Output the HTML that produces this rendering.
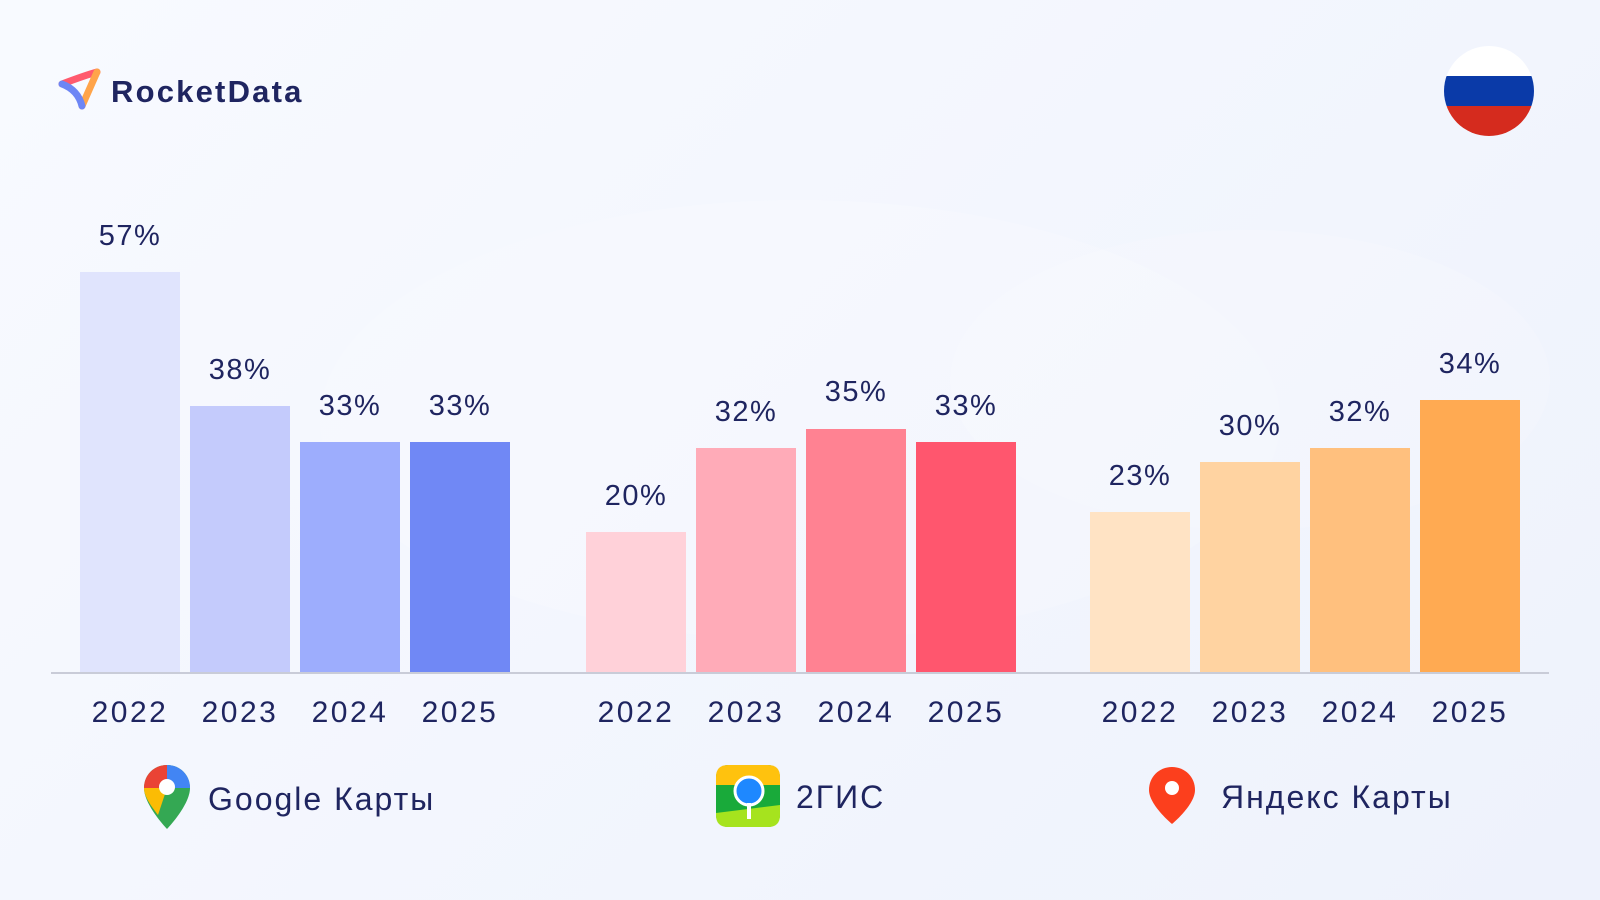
<!DOCTYPE html>
<html><head><meta charset="utf-8"><style>
body{margin:0}
#c{position:relative;width:1600px;height:900px;overflow:hidden;background:linear-gradient(135deg,#f8faff 0%,#eef2fc 100%);font-family:"Liberation Sans","DejaVu Sans",sans-serif;color:#1f2560}
.b{position:absolute;width:100px;bottom:228px}
.l{position:absolute;width:110px;margin-left:-5px;text-align:center;font-size:29px;letter-spacing:1.5px}
.y{position:absolute;width:130px;margin-left:-5px;text-align:center;font-size:30px;top:696px;letter-spacing:2.5px}
.t{position:absolute;font-size:32px;letter-spacing:2px}
</style></head><body><div id="c">
<svg style="position:absolute;left:0;top:0" width="1600" height="900">
<ellipse cx="800" cy="420" rx="480" ry="220" fill="#fff" opacity="0.18"/>
<ellipse cx="1250" cy="380" rx="300" ry="150" fill="#fff" opacity="0.15"/>
<line x1="51" y1="673" x2="1549" y2="673" stroke="#c9ccd8" stroke-width="2"/>
<path d="M62 84 Q86 75 97 72" stroke="#ff5a6e" stroke-width="7" fill="none" stroke-linecap="round"/>
<path d="M97 72 L82 106" stroke="#ffa44a" stroke-width="7" fill="none" stroke-linecap="round"/>
<path d="M62 84 Q78 90 82 106" stroke="#6d86f5" stroke-width="7" fill="none" stroke-linecap="round"/>
<clipPath id="f"><circle cx="1489" cy="91" r="45"/></clipPath>
<g clip-path="url(#f)"><rect x="1440" y="40" width="100" height="36" fill="#fff"/><rect x="1440" y="76" width="100" height="30" fill="#0a3aa8"/><rect x="1440" y="106" width="100" height="40" fill="#d52b1e"/></g>
<g transform="translate(144,765)">
<path d="M23 0 C10 0 0 10 0 23 C0 40 23 64 23 64 C23 64 46 40 46 23 C46 10 36 0 23 0Z" fill="#34a853"/>
<path d="M23 0 C10 0 0 10 0 23 L23 23Z" fill="#ea4335"/>
<path d="M23 0 C36 0 46 10 46 23 L23 23Z" fill="#4285f4"/>
<path d="M0 23 C0 32 8 42 14 50 L23 23Z" fill="#fbbc04"/>
<circle cx="23" cy="22" r="8" fill="#fff"/></g>
<g transform="translate(716,765)">
<rect width="64" height="62" rx="12" fill="#19aa3a"/>
<path d="M0 12 Q0 0 12 0 L52 0 Q64 0 64 12 L64 20 L0 20Z" fill="#ffc20e"/>
<path d="M0 48 L64 40 L64 50 Q64 62 52 62 L12 62 Q0 62 0 50Z" fill="#a6e31e"/>
<circle cx="33" cy="26" r="14" fill="#1e88ff" stroke="#fff" stroke-width="3"/>
<rect x="31" y="38" width="4" height="16" fill="#fff"/></g>
<g transform="translate(1149,767)">
<path d="M23 0 C10 0 0 10 0 23 C0 38 23 57 23 57 C23 57 46 38 46 23 C46 10 36 0 23 0Z" fill="#fc3f1d"/>
<circle cx="23" cy="21" r="7" fill="#fff"/></g>
</svg>
<div style="position:absolute;left:111px;top:74px;font-size:31px;font-weight:bold;letter-spacing:2.2px">RocketData</div>

<div class="b" style="left:80px;height:400px;background:#e0e4fd"></div>
<div class="b" style="left:190px;height:266px;background:#c4cbfc"></div>
<div class="b" style="left:300px;height:230px;background:#9dadfd"></div>
<div class="b" style="left:410px;height:230px;background:#7088f5"></div>
<div class="b" style="left:586px;height:140px;background:#ffd1d9"></div>
<div class="b" style="left:696px;height:224px;background:#ffabb8"></div>
<div class="b" style="left:806px;height:243px;background:#ff8292"></div>
<div class="b" style="left:916px;height:230px;background:#ff566e"></div>
<div class="b" style="left:1090px;height:160px;background:#ffe3c4"></div>
<div class="b" style="left:1200px;height:210px;background:#ffd3a1"></div>
<div class="b" style="left:1310px;height:224px;background:#ffc07e"></div>
<div class="b" style="left:1420px;height:272px;background:#ffaa52"></div>

<div class="l" style="left:80px;top:220px">57%</div>
<div class="l" style="left:190px;top:354px">38%</div>
<div class="l" style="left:300px;top:390px">33%</div>
<div class="l" style="left:410px;top:390px">33%</div>
<div class="l" style="left:586px;top:480px">20%</div>
<div class="l" style="left:696px;top:396px">32%</div>
<div class="l" style="left:806px;top:376px">35%</div>
<div class="l" style="left:916px;top:390px">33%</div>
<div class="l" style="left:1090px;top:460px">23%</div>
<div class="l" style="left:1200px;top:410px">30%</div>
<div class="l" style="left:1310px;top:396px">32%</div>
<div class="l" style="left:1420px;top:348px">34%</div>

<div class="y" style="left:70px">2022</div><div class="y" style="left:180px">2023</div><div class="y" style="left:290px">2024</div><div class="y" style="left:400px">2025</div>
<div class="y" style="left:576px">2022</div><div class="y" style="left:686px">2023</div><div class="y" style="left:796px">2024</div><div class="y" style="left:906px">2025</div>
<div class="y" style="left:1080px">2022</div><div class="y" style="left:1190px">2023</div><div class="y" style="left:1300px">2024</div><div class="y" style="left:1410px">2025</div>

<div class="t" style="left:208px;top:781px">Google Карты</div>
<div class="t" style="left:796px;top:779px">2ГИС</div>
<div class="t" style="left:1221px;top:779px">Яндекс Карты</div>
</div></body></html>
